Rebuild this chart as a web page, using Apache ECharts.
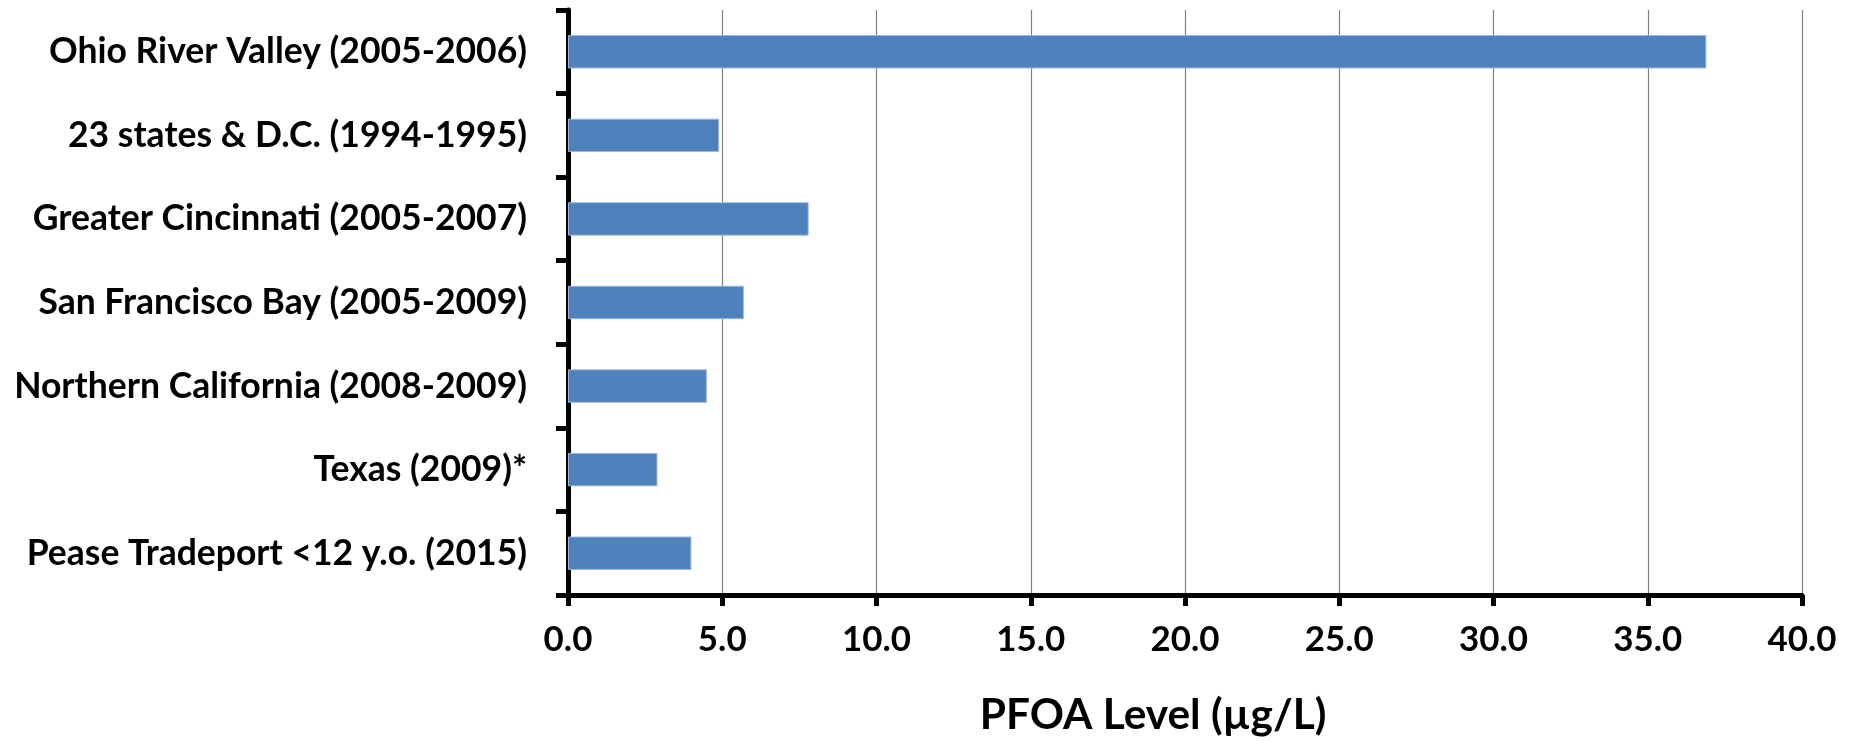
<!DOCTYPE html>
<html>
<head>
<meta charset="utf-8">
<script src="https://cdn.jsdelivr.net/npm/echarts@6/dist/echarts.min.js"></script>
<style>
html,body{margin:0;padding:0;background:#fff;}
#chart{width:1849px;height:741px;}
</style>
</head>
<body>
<div id="chart"></div>
<script>
const categories = [
  "Ohio River Valley (2005-2006)",
  "23 states & D.C. (1994-1995)",
  "Greater Cincinnati (2005-2007)",
  "San Francisco Bay (2005-2009)",
  "Northern California (2008-2009)",
  "Texas (2009)*",
  "Pease Tradeport <12 y.o. (2015)"
];
const pfoaValues = [36.9, 4.9, 7.8, 5.7, 4.5, 2.9, 4.0];
const axisTitle = "PFOA Level (µg/L)";

const FONT = "Lato";
function fitSize(text, targetWidth) {
  const c = document.createElement("canvas").getContext("2d");
  c.font = "bold 100px " + FONT;
  const w = c.measureText(text).width;
  return Math.round(100 * targetWidth / w * 10) / 10;
}
const catSize = fitSize("Northern California (2008-2009)", 513);
const tickSize = fitSize("10.0", 69);
const titleSize = fitSize(axisTitle, 347);

const chart = echarts.init(document.getElementById("chart"), null, {renderer: "canvas"});
chart.setOption({
  animation: false,
  backgroundColor: "#ffffff",
  grid: {left: 568, right: 47, top: 10, bottom: 136, containLabel: false},
  xAxis: {
    type: "value",
    min: 0, max: 40, interval: 5,
    axisLine: {show: true, lineStyle: {color: "#000", width: 5}},
    axisTick: {show: true, length: 11, lineStyle: {color: "#000", width: 5}},
    splitLine: {show: true, lineStyle: {color: "#808080", width: 1.2}},
    axisLabel: {
      margin: 27,
      formatter: v => v.toFixed(1),
      fontFamily: FONT, fontWeight: "bold", fontSize: tickSize, color: "#000"
    },
    name: axisTitle,
    nameLocation: "middle",
    nameGap: 99,
    nameTextStyle: {fontFamily: FONT, fontWeight: "bold", fontSize: titleSize, color: "#000", padding: [0, 64, 0, 0]}
  },
  yAxis: {
    type: "category",
    data: categories,
    inverse: true,
    axisLine: {show: true, lineStyle: {color: "#000", width: 5}},
    axisTick: {show: true, length: 12, lineStyle: {color: "#000", width: 5}},
    splitLine: {show: false},
    axisLabel: {
      margin: 41,
      fontFamily: FONT, fontWeight: "bold", fontSize: catSize, color: "#000"
    }
  },
  series: [{
    type: "bar",
    data: pfoaValues,
    barWidth: "40%",
    itemStyle: {color: "#4F81BD", borderColor: "#9db6d9", borderWidth: 1}
  }]
});
</script>
</body>
</html>
